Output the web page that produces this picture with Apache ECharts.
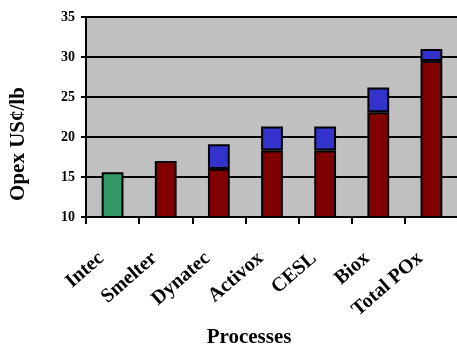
<!DOCTYPE html>
<html><head><meta charset="utf-8">
<script src="https://cdn.jsdelivr.net/npm/echarts@6/dist/echarts.min.js"></script>
<style>html,body{margin:0;padding:0;background:#fff}#c{width:457px;height:345px}</style>
</head><body><div id="c"></div>
<script>
var categories = ['Intec', 'Smelter', 'Dynatec', 'Activox', 'CESL', 'Biox', 'Total POx'];
var baseCost = [15.6, 17.0, 16.0, 18.3, 18.3, 23.1, 29.5];
var extraCost = [null, null, 3.1, 3.0, 3.0, 3.1, 1.5];
var yTicks = { min: 10, max: 35, interval: 5 };

var FONT = '"Liberation Serif", "Times New Roman", serif';
var chart = echarts.init(document.getElementById('c'), null, { renderer: 'canvas' });
chart.setOption({
  animation: false,
  backgroundColor: '#ffffff',
  grid: { left: 86, top: 17, right: -1, bottom: 128, show: true, backgroundColor: '#c0c0c0', borderWidth: 0, outerBoundsMode: 'none', containLabel: false },
  xAxis: {
    type: 'category',
    data: categories,
    name: 'Processes',
    nameLocation: 'middle',
    nameGap: 110,
    nameMoveOverlap: false,
    nameTextStyle: { fontFamily: FONT, fontWeight: 'bold', fontSize: 21, color: '#000', padding: [0, 46, 0, 0] },
    axisLine: { lineStyle: { color: '#000', width: 2 } },
    axisTick: { show: true, length: 7, lineStyle: { color: '#000', width: 2 }, alignWithLabel: false },
    axisLabel: { rotate: 41, margin: 29, padding: [0, 15, 0, 0], fontFamily: FONT, fontWeight: 'bold', fontSize: 20, color: '#000', interval: 0, hideOverlap: false },
    splitLine: { show: false }
  },
  yAxis: {
    type: 'value',
    min: yTicks.min, max: yTicks.max, interval: yTicks.interval,
    name: 'Opex US¢/lb',
    nameLocation: 'middle',
    nameGap: 57,
    nameMoveOverlap: false,
    nameTextStyle: { fontFamily: FONT, fontWeight: 'bold', fontSize: 21, color: '#000', padding: [0, 54, 0, 0] },
    axisLine: { show: true, lineStyle: { color: '#000', width: 2 } },
    axisTick: { show: true, length: 5, lineStyle: { color: '#000', width: 2 } },
    axisLabel: { margin: 11, fontFamily: FONT, fontWeight: 'bold', fontSize: 14, color: '#000' },
    splitLine: { show: true, lineStyle: { color: '#000', width: 2 } }
  },
  series: [
    {
      type: 'bar', stack: 'total', barWidth: '41%',
      data: baseCost.map(function (v, i) {
        return { value: v, itemStyle: { color: i === 0 ? '#339966' : '#800000' } };
      }),
      itemStyle: { borderColor: '#000', borderWidth: 2 }
    },
    {
      type: 'bar', stack: 'total', barWidth: '41%',
      data: extraCost,
      itemStyle: { color: '#3333cc', borderColor: '#000', borderWidth: 2 }
    }
  ]
});
</script></body></html>
